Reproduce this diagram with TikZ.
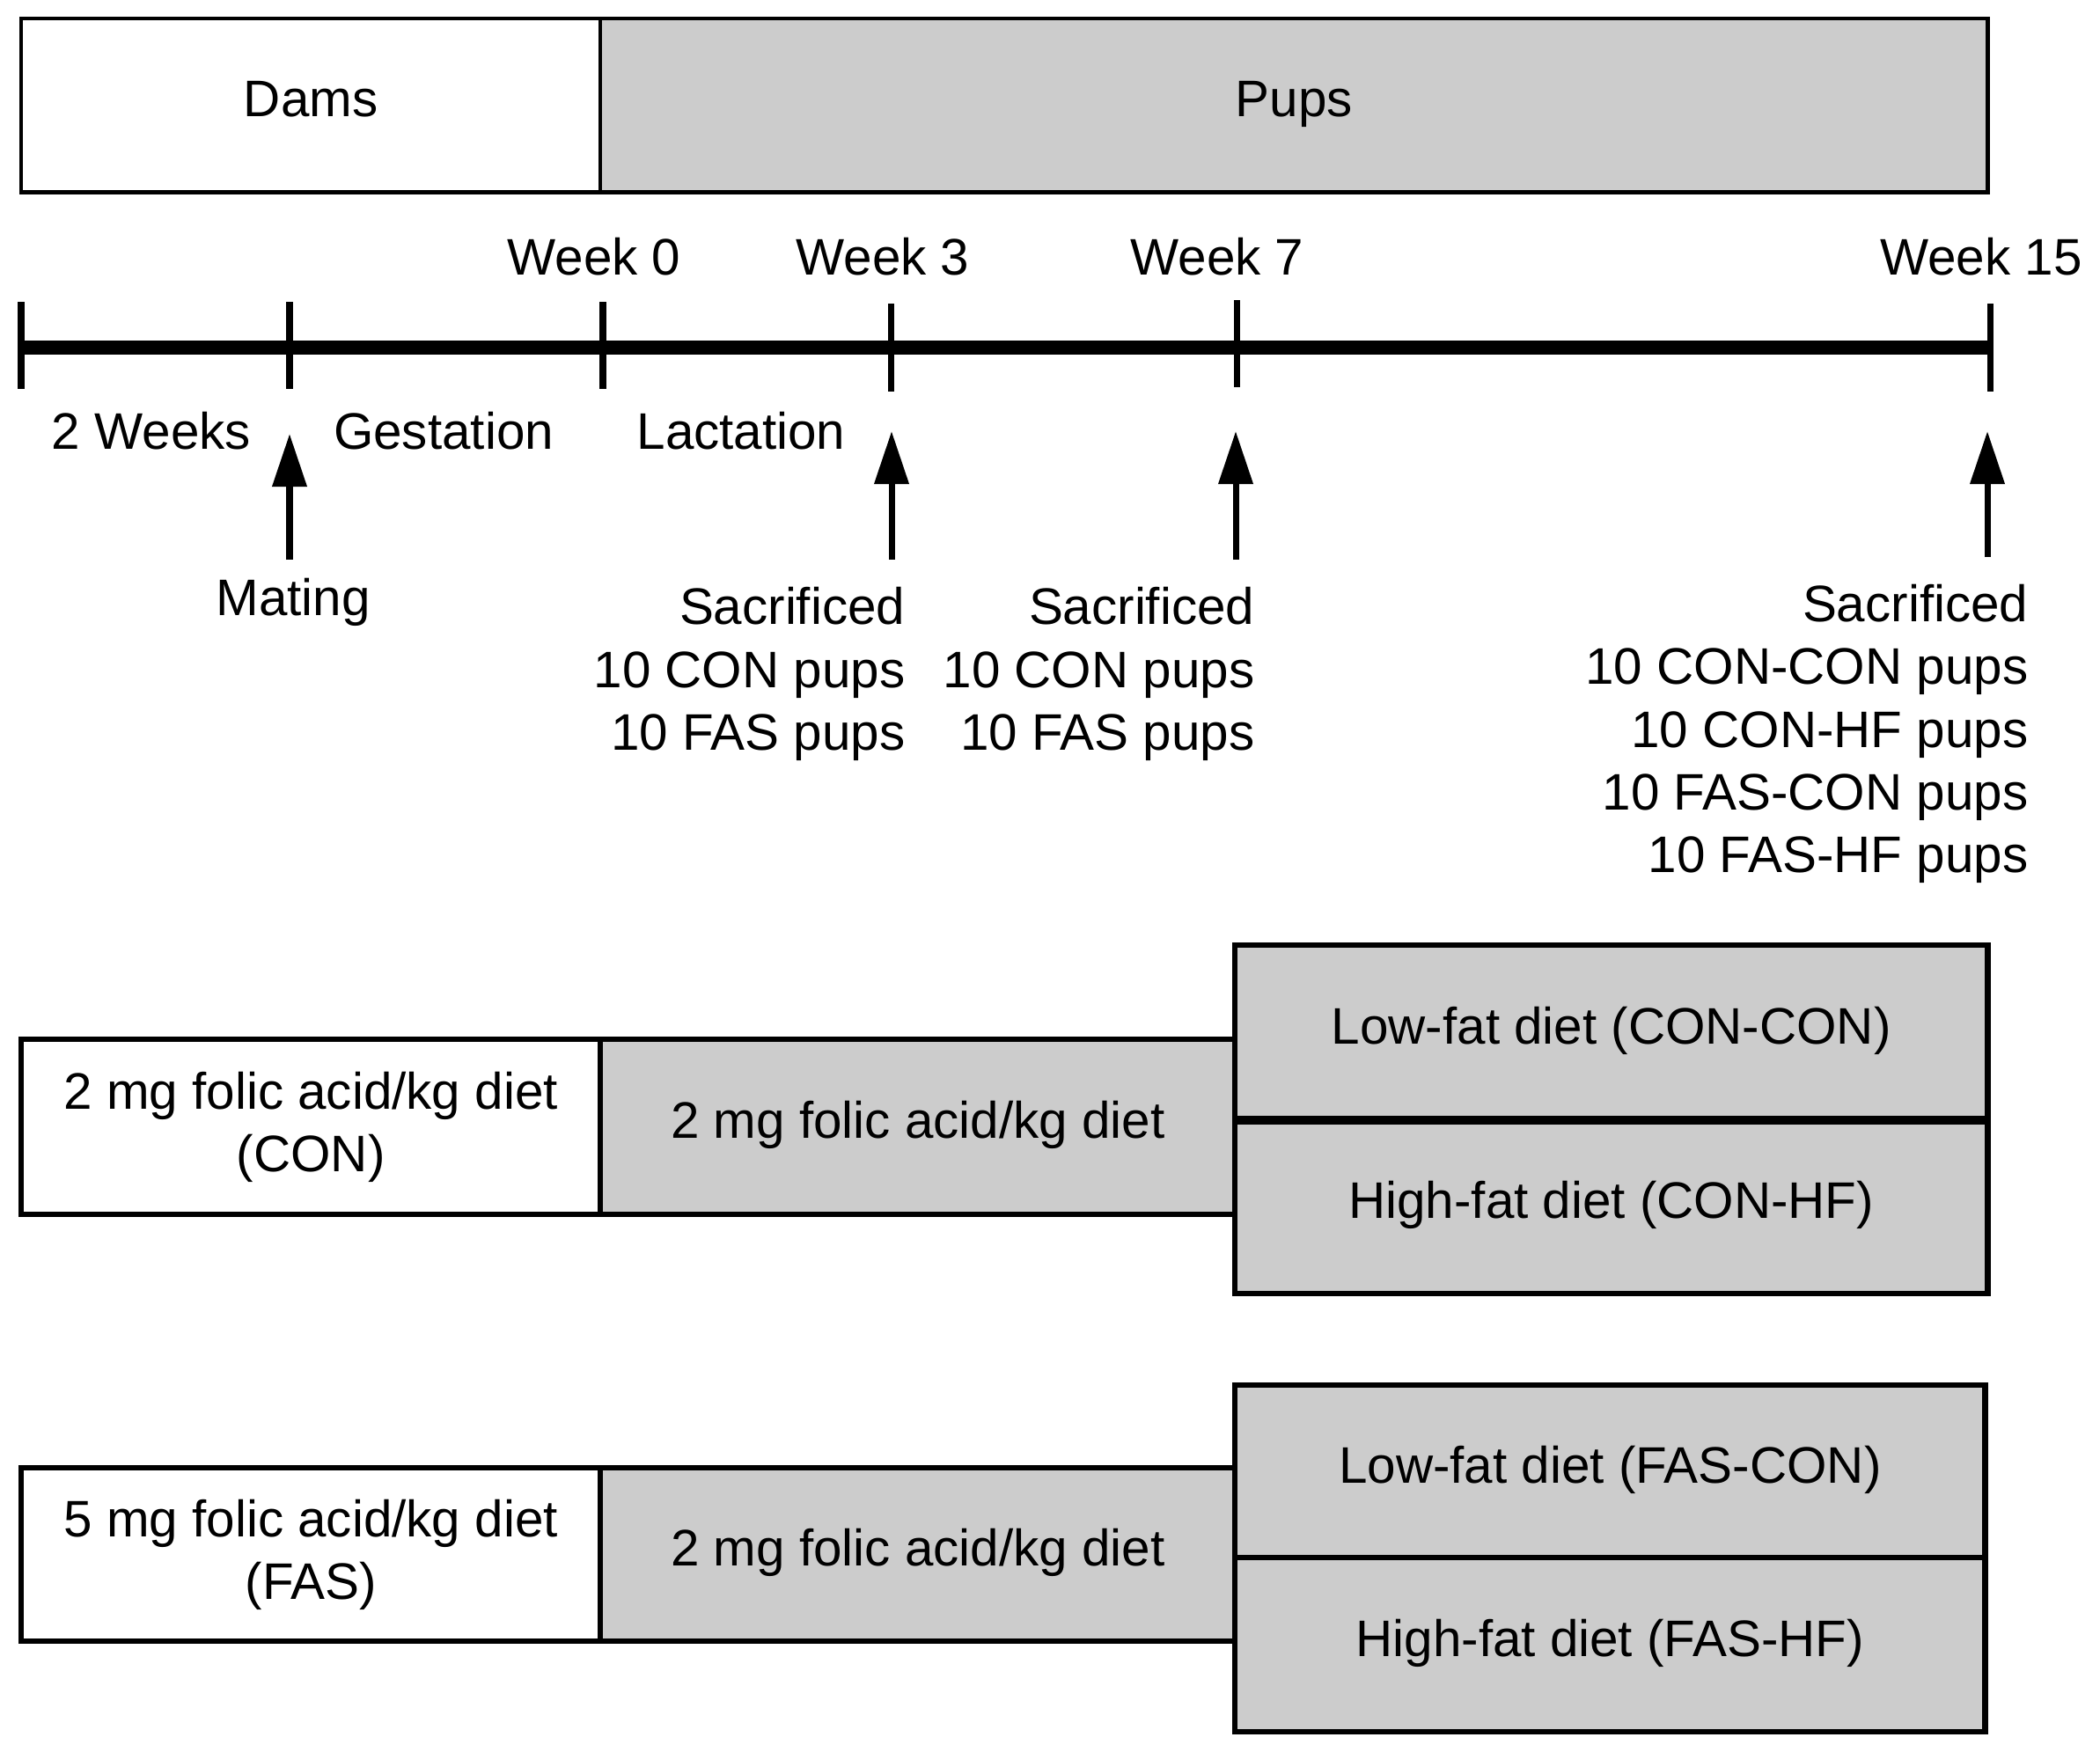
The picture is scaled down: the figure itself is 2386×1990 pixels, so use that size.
\documentclass[tikz,border=0pt]{standalone}
\usepackage{fontspec}
\setmainfont{Liberation Sans}
\usepackage{xcolor}
\usetikzlibrary{arrows.meta,positioning}
\definecolor{boxgray}{RGB}{204,204,204}

\begin{document}
\begin{tikzpicture}[x=0.01cm, y=-0.01cm,
    every node/.style={font=\fontsize{16.6}{20.3}\selectfont},
    phase/.style={rectangle, draw=black, line width=1.4pt, anchor=north west, inner sep=0pt, outer sep=0pt},
    mother/.style={phase, fill=white},
    pup/.style={phase, fill=boxgray},
    diet/.style={line width=1.8pt},
    oneline/.style={text height=12.5pt, text depth=5pt},
    timeline/.style={line width=4.3pt},
    weektick/.style={line width=2pt},
    uparrow/.style={-{Triangle[length=0.6cm, width=0.38cm]}, line width=2pt},
    sacri/.style={align=right, anchor=east, inner sep=0pt}
]
\useasboundingbox (0,0) rectangle (2386,1990);

% Dams / pups bar
\node[mother, oneline, minimum width=6.58cm, minimum height=1.97cm] (dams) at (24,21) {Dams};
\node[pup, oneline, minimum width=15.76cm, minimum height=1.97cm] (pups) at (682,21) {Pups};

% Time axis
\coordinate (t-start) at (24,395);
\coordinate (t-end) at (2261,395);
\draw[timeline] (t-start) -- (t-end);
\draw[weektick] (24,343) -- (24,442);
\draw[weektick] (329,343) -- (329,442);
\draw[weektick] (685,343) -- (685,442);
\draw[weektick] (1012,345) -- (1012,445);
\draw[weektick] (1405,341) -- (1405,440);
\draw[weektick] (2261,345) -- (2261,445);

% Week labels
\node (w0) at (675,292) {Week 0};
\node (w3) at (1003,292) {Week 3};
\node (w7) at (1383,292) {Week 7};
\node (w15) at (2251,292) {Week 15};

% Periods
\node (pre) at (172,490) {2 Weeks};
\node (gest) at (504,490) {Gestation};
\node (lact) at (842,490) {Lactation};

% Events
\coordinate (mate-tail) at (329,636);
\coordinate (mate-tip) at (329,493);
\draw[uparrow] (mate-tail) -- (mate-tip);
\node (mating) at (333,684) {Mating};

\coordinate (w3-tail) at (1013,636);
\coordinate (w3-tip) at (1013,490);
\draw[uparrow] (w3-tail) -- (w3-tip);
\node[sacri] (sac3) at (1029,766) {Sacrificed\\10 CON pups\\10 FAS pups};

\coordinate (w7-tail) at (1404,636);
\coordinate (w7-tip) at (1404,490);
\draw[uparrow] (w7-tail) -- (w7-tip);
\node[sacri] (sac7) at (1426,766) {Sacrificed\\10 CON pups\\10 FAS pups};

\coordinate (w15-tail) at (2258,633);
\coordinate (w15-tip) at (2258,490);
\draw[uparrow] (w15-tail) -- (w15-tip);
\node[sacri] (sac15) at (2305,834) {Sacrificed\\10 CON-CON pups\\10 CON-HF pups\\10 FAS-CON pups\\10 FAS-HF pups};

% CON group
\node[mother, diet, minimum width=6.58cm, minimum height=1.99cm, align=center] (con-dam) at (24,1181) {2 mg folic acid/kg diet\\(CON)};
\node[pup, diet, oneline, minimum width=7.21cm, minimum height=1.99cm] (con-wean) at (682,1181) {2 mg folic acid/kg diet};
\node[pup, diet, oneline, minimum width=8.55cm, minimum height=1.99cm] (con-con) at (1403,1074) {Low-fat diet (CON-CON)};
\node[pup, diet, oneline, minimum width=8.55cm, minimum height=1.97cm] (con-hf) at (1403,1273) {High-fat diet (CON-HF)};
\draw[line width=2.8pt] (con-con.south west) -- (con-con.south east);

% FAS group
\node[mother, diet, minimum width=6.58cm, minimum height=1.97cm, align=center] (fas-dam) at (24,1668) {5 mg folic acid/kg diet\\(FAS)};
\node[pup, diet, oneline, minimum width=7.21cm, minimum height=1.97cm] (fas-wean) at (682,1668) {2 mg folic acid/kg diet};
\node[pup, diet, oneline, minimum width=8.52cm, minimum height=1.96cm] (fas-con) at (1403,1574) {Low-fat diet (FAS-CON)};
\node[pup, diet, oneline, minimum width=8.52cm, minimum height=1.98cm] (fas-hf) at (1403,1770) {High-fat diet (FAS-HF)};

\end{tikzpicture}
\end{document}
